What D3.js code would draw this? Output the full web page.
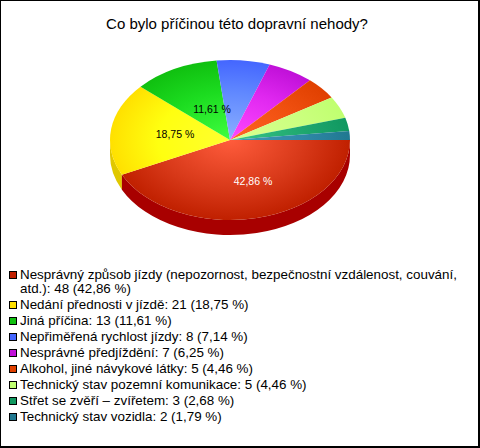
<!DOCTYPE html>
<html><head><meta charset="utf-8">
<script src="https://cdn.jsdelivr.net/npm/d3@7/dist/d3.min.js"></script>
<style>html,body{margin:0;padding:0;background:#fff}svg{display:block}text{font-family:"Liberation Sans",Arial,sans-serif}</style>
</head><body><div id="c"></div>
<script>
const title = "Co bylo příčinou této dopravní nehody?";
const categories = ["Nesprávný způsob jízdy (nepozornost, bezpečnostní vzdálenost, couvání,|atd.)","Nedání přednosti v jízdě","Jiná příčina","Nepřiměřená rychlost jízdy","Nesprávné předjíždění","Alkohol, jiné návykové látky","Technický stav pozemní komunikace","Střet se zvěří – zvířetem","Technický stav vozidla"];
const values = [48,21,13,8,7,5,5,3,2];
const percents = ["42,86","18,75","11,61","7,14","6,25","4,46","4,46","2,68","1,79"];
const innerColors = ["#ff5c3c","#ffff30","#40ff40","#8cb0ff","#ff48ff","#ff6424","#d8ff90","#38c888","#4098b8"];
const midColors = ["#d93a1a","#ffff10","#1cdc20","#6088ff","#e028f0","#f05010","#ccff80","#20a870","#3088a8"];
const outerColors = ["#c02000","#ffe000","#10c010","#4466ff","#c010d8","#e04000","#c0ff70","#109860","#207890"];
const sideColors = ["#a80000","#e0c800"];
const legendColors = ["#c02000","#ffe000","#10c010","#4466ff","#c010d8","#e04000","#c0ff70","#109860","#207890"];
const W=480,H=448,cx=230,cy=140,rx=120,ry=80,depth=15;
const svg=d3.select("#c").append("svg").attr("width",W).attr("height",H);
svg.append("rect").attr("width",W).attr("height",H).attr("fill","#000");
svg.append("rect").attr("x",1).attr("y",1).attr("width",W-3).attr("height",H-3).attr("fill","#fff");
svg.append("text").attr("x",237).attr("y",29).attr("text-anchor","middle").attr("font-size",15).attr("fill","#000").text(title);
const defs=svg.append("defs");
values.forEach((v,i)=>{
  const g=defs.append("radialGradient").attr("id","g"+i).attr("gradientUnits","userSpaceOnUse").attr("cx",0).attr("cy",0).attr("r",rx);
  g.append("stop").attr("offset",0).attr("stop-color",innerColors[i]);
  g.append("stop").attr("offset",0.6).attr("stop-color",midColors[i]);
  g.append("stop").attr("offset",1).attr("stop-color",outerColors[i]);
});
const pie=d3.pie().sort(null).startAngle(Math.PI/2).endAngle(Math.PI*2.5);
const arcs=pie(values);
const arc=d3.arc().innerRadius(0).outerRadius(rx);
// side walls: d3 angle 0 is 12 o'clock, so the front half runs from PI/2 to 3PI/2
const sx=a=>cx+rx*Math.sin(a), sy=a=>cy-ry*Math.cos(a);
const side=svg.append("g");
arcs.slice(0,2).reverse().forEach(d=>{
  const a0=Math.max(d.startAngle,Math.PI/2),a1=Math.min(d.endAngle,Math.PI*1.5);
  if(a1<=a0)return;
  side.append("path")
    .attr("d",`M${sx(a0)},${sy(a0)}A${rx},${ry} 0 0 1 ${sx(a1)},${sy(a1)}L${sx(a1)},${sy(a1)+depth}A${rx},${ry} 0 0 0 ${sx(a0)},${sy(a0)+depth}Z`)
    .attr("fill",sideColors[d.index]);
});
const face=svg.append("g").attr("transform",`translate(${cx},${cy}) scale(1,${ry/rx})`);
face.selectAll("path").data(arcs).join("path").attr("d",arc).attr("fill",(d,i)=>`url(#g${i})`);
const labels=[[0,253,185,"#fff"],[1,175,138,"#000"],[2,212,113,"#000"]];
labels.forEach(([i,x,y,c])=>svg.append("text").attr("x",x).attr("y",y).attr("text-anchor","middle").attr("font-size",10.5).attr("fill",c).text(percents[i]+" %"));
const leg=svg.append("g");
let y=278.6;
categories.forEach((c,i)=>{
  leg.append("rect").attr("x",9.5).attr("y",Math.round(y)-7.5).attr("width",7).attr("height",7).attr("fill",legendColors[i]).attr("stroke","#000");
  const parts=c.split("|");
  parts.forEach((p,k)=>{
    const tail=k===parts.length-1?`: ${values[i]} (${percents[i]} %)`:"";
    leg.append("text").attr("x",20).attr("y",y).attr("font-size",13.4).attr("fill","#000").text(p+tail);
    if(k<parts.length-1)y+=14.5;
  });
  y+=16;
});
</script></body></html>
